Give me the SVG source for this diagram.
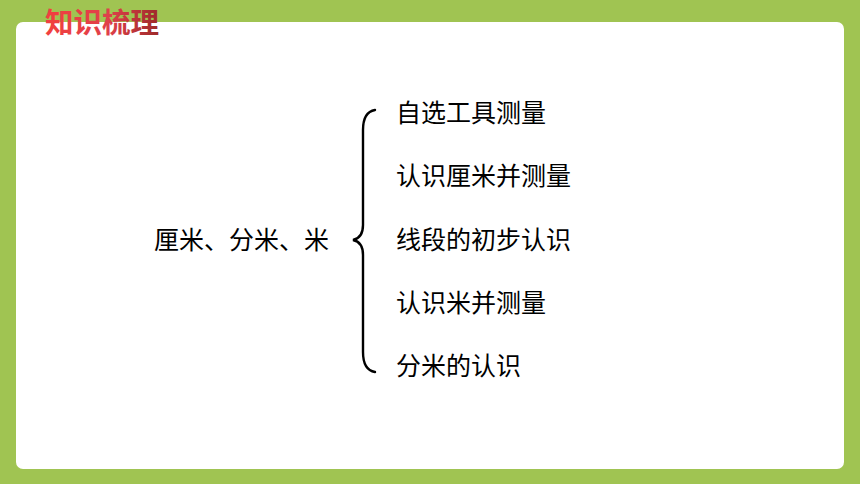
<svg xmlns="http://www.w3.org/2000/svg" width="860" height="484" viewBox="0 0 860 484">
<defs>
<linearGradient id="tg" x1="0" y1="0" x2="1" y2="0">
<stop offset="0" stop-color="#F2403F"/>
<stop offset="0.55" stop-color="#E0404A"/>
<stop offset="1" stop-color="#9E2A2A"/>
</linearGradient>
<style>
.t{font-family:"Noto Sans CJK SC","Noto Sans",sans-serif;font-size:25px;fill:#000}
.title{font-family:"Noto Sans CJK SC","Noto Sans",sans-serif;font-size:28.5px;font-weight:bold;fill:url(#tg)}
.brace{fill:none;stroke:#000;stroke-width:2.4;stroke-linecap:round}
</style>
</defs>
<rect x="0" y="0" width="860" height="484" fill="#A0C452"/>
<rect x="16" y="22" width="828" height="447" rx="7" fill="#fff"/>
<text class="title" x="45" y="33">知识梳理</text>
<g id="root"><text class="t" x="154" y="249">厘米、分米、米</text></g>
<g id="connectors">
<path class="brace" d="M375,110 Q363,112 363,130 L363,225 Q363,238 353,240 Q363,242 363,255 L363,352 Q363,370 375,372"/>
</g>
<g id="n1"><text class="t" x="396" y="122">自选工具测量</text></g>
<g id="n2"><text class="t" x="396" y="185">认识厘米并测量</text></g>
<g id="n3"><text class="t" x="396" y="249">线段的初步认识</text></g>
<g id="n4"><text class="t" x="396" y="312">认识米并测量</text></g>
<g id="n5"><text class="t" x="396" y="375">分米的认识</text></g>
</svg>
